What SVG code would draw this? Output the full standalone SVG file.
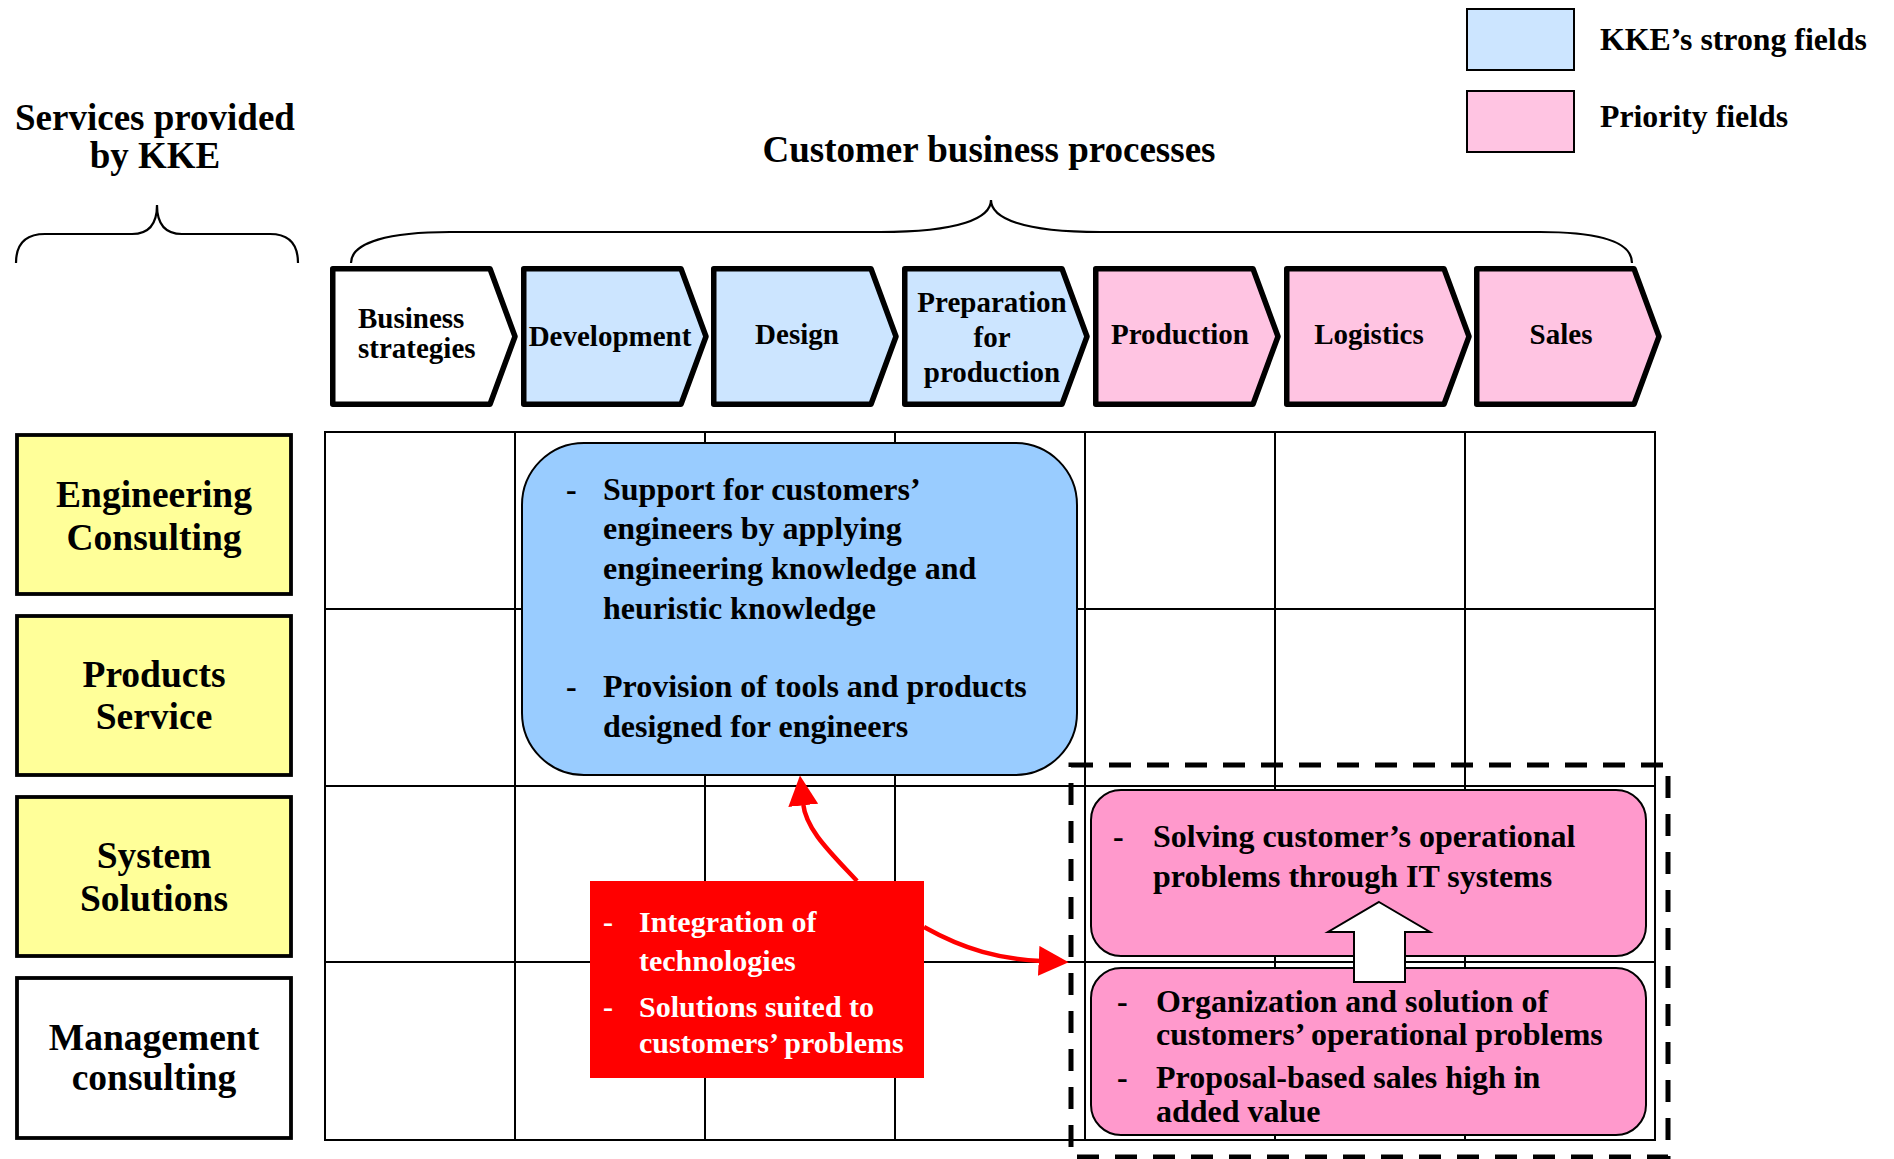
<svg xmlns="http://www.w3.org/2000/svg" width="1894" height="1159" viewBox="0 0 1894 1159">
<style>
text{font-family:"Liberation Serif","Times New Roman",serif;font-weight:bold;fill:#000}
.title{font-size:37px}
.legend{font-size:31.8px}
.chev{stroke:#000;stroke-width:5.5;stroke-linejoin:round}
.ct{font-size:29px;text-anchor:middle}
.svc{fill:#FFFF99;stroke:#000;stroke-width:3.8}
.st{font-size:37.5px;text-anchor:middle}
.grid{stroke:#000;stroke-width:2;fill:none}
.bt{font-size:32px}
.rt{font-size:30px;fill:#fff}
.brace{fill:none;stroke:#000;stroke-width:2.2}
.red{fill:none;stroke:#FF0000;stroke-width:4.5}
.blue{fill:#CCE5FF}
.pink{fill:#FFC4E2}
</style>
<defs>
<marker id="rh" markerUnits="userSpaceOnUse" markerWidth="30" markerHeight="30" viewBox="0 0 26 26" refX="2" refY="13" orient="auto">
<path d="M0,0 L26,13 L0,26 Z" fill="#FF0000"/>
</marker>
</defs>
<rect width="1894" height="1159" fill="#fff"/>

<g id="titles">
<text class="title" x="155" y="130" text-anchor="middle">Services provided</text>
<text class="title" x="155" y="168" text-anchor="middle">by KKE</text>
<text class="title" x="989" y="162" text-anchor="middle">Customer business processes</text>
<path class="brace" d="M16,263 C16,245 24,234 45,234 L132,234 C150,234 157,222 157,205 C157,222 164,234 182,234 L270,234 C290,234 298,245 298,263"/>
<path class="brace" d="M351,263 C351,242 390,232 450,232 L880,232 C960,232 991,218 991,200 C991,218 1022,232 1100,232 L1540,232 C1600,232 1632,242 1632,263"/>
</g>

<g id="legend">
<rect x="1467" y="9" width="107" height="61" class="blue" stroke="#000" stroke-width="2"/>
<text class="legend" x="1600" y="50">KKE’s strong fields</text>
<rect x="1467" y="91" width="107" height="61" class="pink" stroke="#000" stroke-width="2"/>
<text class="legend" x="1600" y="127">Priority fields</text>
</g>

<g id="grid">
<rect class="grid" x="325" y="432" width="1330" height="708"/>
<path class="grid" d="M515,432V1140M705,432V1140M895,432V1140M1085,432V1140M1275,432V1140M1465,432V1140M325,609H1655M325,786H1655M325,962H1655"/>
</g>

<g id="p-business">
<path class="chev" fill="#fff" d="M332.75,268.75 H490 L515,336.5 L490,404.25 H332.75 Z"/>
<text class="ct" x="358" y="328" style="text-anchor:start">Business</text>
<text class="ct" x="358" y="358" style="text-anchor:start">strategies</text>
</g>
<g id="p-development">
<path class="chev blue" d="M523.75,268.75 H681 L706,336.5 L681,404.25 H523.75 Z"/>
<text class="ct" x="610" y="346">Development</text>
</g>
<g id="p-design">
<path class="chev blue" d="M713.75,268.75 H871 L896,336.5 L871,404.25 H713.75 Z"/>
<text class="ct" x="797" y="344">Design</text>
</g>
<g id="p-preparation">
<path class="chev blue" d="M904.75,268.75 H1062 L1087,336.5 L1062,404.25 H904.75 Z"/>
<text class="ct" x="992" y="312">Preparation</text>
<text class="ct" x="992" y="347">for</text>
<text class="ct" x="992" y="382">production</text>
</g>
<g id="p-production">
<path class="chev pink" d="M1095.75,268.75 H1253 L1278,336.5 L1253,404.25 H1095.75 Z"/>
<text class="ct" x="1180" y="344">Production</text>
</g>
<g id="p-logistics">
<path class="chev pink" d="M1286.75,268.75 H1444 L1469,336.5 L1444,404.25 H1286.75 Z"/>
<text class="ct" x="1369" y="344">Logistics</text>
</g>
<g id="p-sales">
<path class="chev pink" d="M1476.75,268.75 H1634 L1659,336.5 L1634,404.25 H1476.75 Z"/>
<text class="ct" x="1561" y="344">Sales</text>
</g>

<g id="s-engineering">
<rect class="svc" x="17" y="435" width="274" height="159"/>
<text class="st" x="154" y="507">Engineering</text>
<text class="st" x="154" y="550">Consulting</text>
</g>
<g id="s-products">
<rect class="svc" x="17" y="616" width="274" height="159"/>
<text class="st" x="154" y="687">Products</text>
<text class="st" x="154" y="729">Service</text>
</g>
<g id="s-system">
<rect class="svc" x="17" y="797" width="274" height="159"/>
<text class="st" x="154" y="868">System</text>
<text class="st" x="154" y="911">Solutions</text>
</g>
<g id="s-management">
<rect class="svc" x="17" y="978" width="274" height="160" style="fill:#fff"/>
<text class="st" x="154" y="1050">Management</text>
<text class="st" x="154" y="1090">consulting</text>
</g>

<g id="engineering-support">
<rect x="522" y="443" width="555" height="332" rx="62" ry="62" fill="#99CCFF" stroke="#000" stroke-width="2"/>
<text class="bt" x="566" y="500">-</text>
<text class="bt" x="603" y="500">Support for customers’</text>
<text class="bt" x="603" y="539">engineers by applying</text>
<text class="bt" x="603" y="579">engineering knowledge and</text>
<text class="bt" x="603" y="619">heuristic knowledge</text>
<text class="bt" x="566" y="697">-</text>
<text class="bt" x="603" y="697">Provision of tools and products</text>
<text class="bt" x="603" y="737">designed for engineers</text>
</g>

<g id="it-systems">
<rect x="1091" y="790" width="555" height="166" rx="30" ry="30" fill="#FF99CC" stroke="#000" stroke-width="2"/>
<text class="bt" x="1113" y="847">-</text>
<text class="bt" x="1153" y="847">Solving customer’s operational</text>
<text class="bt" x="1153" y="887">problems through IT systems</text>
</g>
<g id="operational-solutions">
<rect x="1091" y="968" width="555" height="167" rx="30" ry="30" fill="#FF99CC" stroke="#000" stroke-width="2"/>
<text class="bt" x="1117" y="1012">-</text>
<text class="bt" x="1156" y="1012">Organization and solution of</text>
<text class="bt" x="1156" y="1045">customers’ operational problems</text>
<text class="bt" x="1117" y="1088">-</text>
<text class="bt" x="1156" y="1088">Proposal-based sales high in</text>
<text class="bt" x="1156" y="1122">added value</text>
</g>

<g id="priority-area">
<rect x="1071" y="765" width="597" height="392" fill="none" stroke="#000" stroke-width="5" stroke-dasharray="22 16"/>
</g>

<g id="integration">
<rect x="590" y="881" width="334" height="197" fill="#FF0000"/>
<text class="rt" x="603" y="932">-</text>
<text class="rt" x="639" y="932">Integration of</text>
<text class="rt" x="639" y="971">technologies</text>
<text class="rt" x="603" y="1017">-</text>
<text class="rt" x="639" y="1017">Solutions suited to</text>
<text class="rt" x="639" y="1053">customers’ problems</text>
</g>

<g id="connectors">
<polygon points="1379,902 1430,932 1405,932 1405,982 1354,982 1354,932 1328,932" fill="#fff" stroke="#000" stroke-width="2"/>
<path class="red" d="M857,881 C830,852 806,830 803,803" marker-end="url(#rh)"/>
<path class="red" d="M924,927 C965,950 1000,959 1041,961" marker-end="url(#rh)"/>
</g>
</svg>
